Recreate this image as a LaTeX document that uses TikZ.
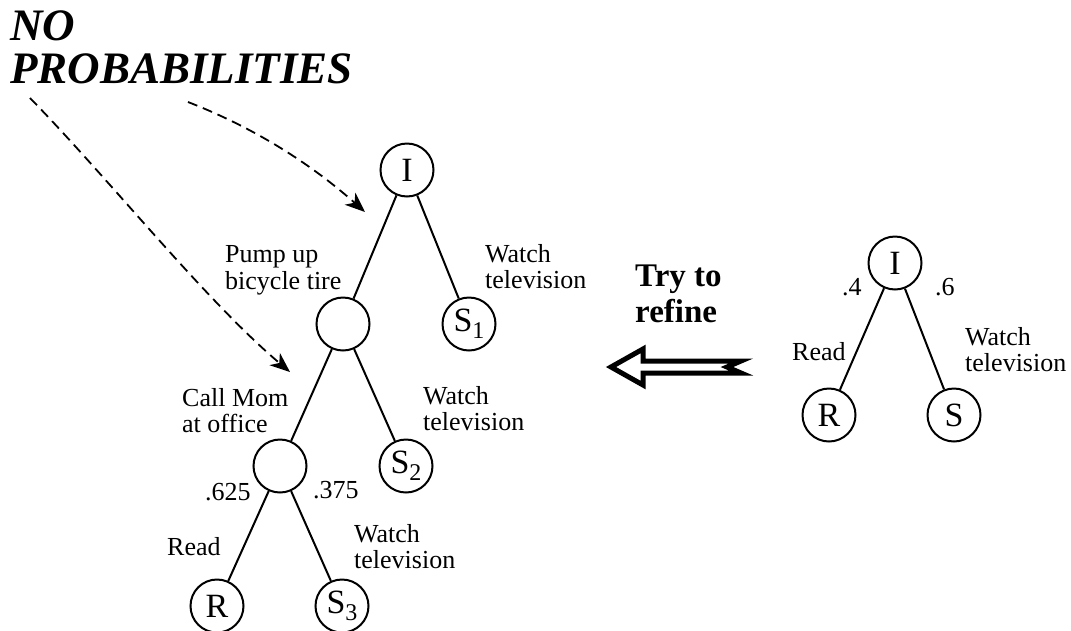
\documentclass[tikz,border=0pt]{standalone}
\usepackage{fontspec}
\setmainfont{Liberation Serif}
\usetikzlibrary{arrows.meta}
\newcommand{\sub}[1]{\raisebox{-7pt}{\fontsize{24}{24}\selectfont #1}}
\begin{document}
\begin{tikzpicture}[x=1pt,y=-1pt,
  state/.style={circle,draw,line width=2pt,minimum size=53pt,inner sep=0pt,
                font=\fontsize{34}{34}\selectfont},
  branch/.style={line width=2pt},
  lbl/.style={anchor=north west,inner sep=0pt,align=left,
              font=\fontsize{26}{26.5}\selectfont},
  prob/.style={anchor=base west,inner sep=0pt,font=\fontsize{26}{26}\selectfont},
  pointer/.style={dash pattern=on 10pt off 6pt,line width=1.8pt,
                  -{Stealth[length=20pt,width=16pt,inset=6pt]}},
  bigarrow/.style={line width=5pt,line join=miter}]
\path[use as bounding box] (0,0) rectangle (1071,630);

% heading
\node[anchor=north west,inner sep=0pt,align=left,
      font=\fontsize{45}{43.5}\selectfont\bfseries\itshape] (head) at (10,10)
      {NO\\PROBABILITIES};
\coordinate (p1) at (188,102);
\coordinate (p2) at (30,98);
\coordinate (t1) at (365,212);
\coordinate (t2) at (290,372);

% refined tree (left)
\node[state] (I)  at (407,170) {I};
\node[state] (M)  at (343,324) {};
\node[state] (S1) at (469,324) {S\sub{1}};
\node[state] (L)  at (280,466) {};
\node[state] (S2) at (406,466) {S\sub{2}};
\node[state] (R)  at (217,606) {R};
\node[state] (S3) at (342,606) {S\sub{3}};

\draw[branch] (I) -- (M);
\draw[branch] (I) -- (S1);
\draw[branch] (M) -- (L);
\draw[branch] (M) -- (S2);
\draw[branch] (L) -- (R);
\draw[branch] (L) -- (S3);

\node[lbl] (lpump) at (225,245.5) {Pump up\\bicycle tire};
\node[lbl] (lw1)   at (485,244)   {Watch\\television};
\node[lbl] (lcall) at (182,388)   {Call Mom\\at office};
\node[lbl] (lw2)   at (423,386)   {Watch\\television};
\node[lbl] (lw3)   at (354,524)   {Watch\\television};
\node[prob] (q625) at (205,500) {.625};
\node[prob] (q375) at (313,498) {.375};
\node[prob] (lread) at (167,555) {Read};

% pointers from the heading
\draw[pointer] (p1) .. controls (265,132) and (320,172) .. (t1);
\draw[pointer] (p2) .. controls (110,180) and (205,300) .. (t2);

% original tree (right)
\node[state] (Ir) at (895,263) {I};
\node[state] (Rr) at (829,415) {R};
\node[state] (Sr) at (954,415) {S};
\draw[branch] (Ir) -- (Rr);
\draw[branch] (Ir) -- (Sr);
\node[prob] (q4) at (842,295) {.4};
\node[prob] (q6) at (935,295) {.6};
\node[prob] (lreadr) at (792,360) {Read};
\node[lbl] (lwr) at (965,327) {Watch\\television};

% refinement arrow
\node[anchor=north west,inner sep=0pt,align=left,
      font=\fontsize{33}{36}\selectfont\bfseries] (try) at (635,265) {Try to\\refine};
\draw[bigarrow] (741,361) -- (643,361) -- (643,349) -- (611,367) -- (643,385)
  -- (643,373) -- (741,373) -- (727,367) -- cycle;
\end{tikzpicture}
\end{document}
